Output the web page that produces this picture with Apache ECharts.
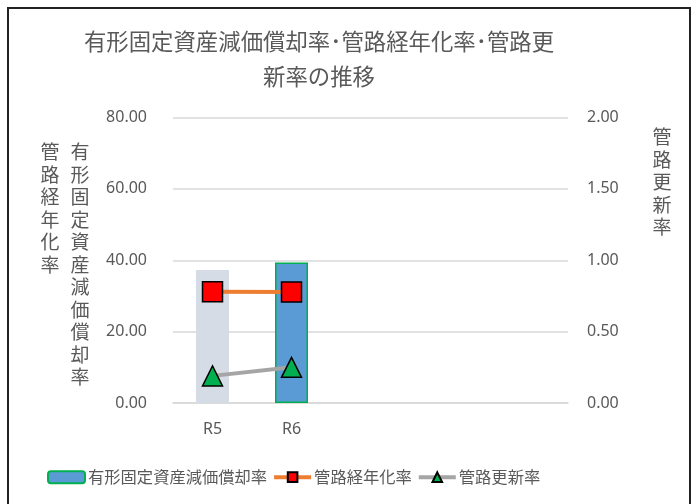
<!DOCTYPE html>
<html><head><meta charset="utf-8">
<script src="https://cdn.jsdelivr.net/npm/echarts@6/dist/echarts.min.js"></script>
<style>
html,body{margin:0;padding:0;background:#fff;}
#frame{position:absolute;left:7px;top:7px;width:684px;height:510px;border:2px solid #222;box-sizing:border-box;}
#c{position:absolute;left:0;top:0;width:696px;height:504px;}
</style></head>
<body>
<div id="frame"></div>
<div id="c"></div>
<script>
const categories = ['R5', 'R6', '', '', ''];
const depreciationRate = [37.3, 39.4];   // 有形固定資産減価償却率
const agingRate = [31.2, 31.1];          // 管路経年化率
const renewalRate = [0.19, 0.25];        // 管路更新率
const leftTicks = { min: 0, max: 80, interval: 20 };
const rightTicks = { min: 0, max: 2, interval: 0.5 };

const FONT = "'Noto Sans', 'Noto Sans CJK JP', sans-serif";
const TXT = '#595959';
const vert = s => s.split('').join('\n');

const chart = echarts.init(document.getElementById('c'));
chart.setOption({
  animation: false,
  textStyle: { fontFamily: FONT, color: TXT },
  graphic: [
    { type: 'text', position: [319, 24], style: { text: '有形固定資産減価償却率･管路経年化率･管路更\n新率の推移', align: 'center', fill: TXT, font: "22.4px 'Noto Sans CJK JP'", lineHeight: 35 } },
    { type: 'text', position: [50, 141], style: { text: vert('管路経年化率'), align: 'center', fill: TXT, font: "19px 'Noto Sans CJK JP'", lineHeight: 22.5 } },
    { type: 'text', position: [80, 141], style: { text: vert('有形固定資産減価償却率'), align: 'center', fill: TXT, font: "19px 'Noto Sans CJK JP'", lineHeight: 22.5 } },
    { type: 'text', position: [662, 126], style: { text: vert('管路更新率'), align: 'center', fill: TXT, font: "19px 'Noto Sans CJK JP'", lineHeight: 22.5 } }
  ],
  grid: { left: 173, right: 128, top: 117.5, bottom: 101 },
  legend: {
    top: 464, left: 42,
    itemWidth: 37, itemHeight: 12, itemGap: 5,
    textStyle: { fontSize: 16.3, color: TXT, fontFamily: "'Noto Sans CJK JP'", padding: [0, 0, 0, -2] },
    data: [
      { name: '有形固定資産減価償却率' },
      { name: '管路経年化率', lineStyle: { width: 4, color: '#ED7D31' } },
      { name: '管路更新率', lineStyle: { width: 4, color: '#A5A5A5' } }
    ]
  },
  xAxis: {
    type: 'category', data: categories,
    axisLine: { lineStyle: { color: '#D9D9D9', width: 1.5 } },
    axisTick: { show: false },
    axisLabel: { fontSize: 16, color: TXT, margin: 18 }
  },
  yAxis: [
    { type: 'value', min: leftTicks.min, max: leftTicks.max, interval: leftTicks.interval,
      axisLabel: { fontSize: 16, color: TXT, margin: 26, formatter: v => v.toFixed(2) },
      splitLine: { lineStyle: { color: '#D9D9D9', width: 1.5 } },
      axisLine: { show: false }, axisTick: { show: false } },
    { type: 'value', min: rightTicks.min, max: rightTicks.max, interval: rightTicks.interval,
      axisLabel: { fontSize: 16, color: TXT, margin: 19, formatter: v => v.toFixed(2) },
      splitLine: { show: false },
      axisLine: { show: false }, axisTick: { show: false } }
  ],
  series: [
    { name: '有形固定資産減価償却率', type: 'bar', yAxisIndex: 0, barWidth: 33,
      itemStyle: { color: '#5B9BD5', borderColor: '#00B050', borderWidth: 1.5 },
      data: depreciationRate.map((v, i) => i === 0 ? { value: v, itemStyle: { color: '#D6DCE5', borderWidth: 0 } } : v) },
    { name: '管路経年化率', type: 'line', yAxisIndex: 0, data: agingRate,
      symbol: 'rect', symbolSize: 20,
      lineStyle: { color: '#ED7D31', width: 4 },
      itemStyle: { color: '#FF0000', borderColor: '#000', borderWidth: 1.5 } },
    { name: '管路更新率', type: 'line', yAxisIndex: 1, data: renewalRate,
      symbol: 'triangle', symbolSize: 20,
      lineStyle: { color: '#A5A5A5', width: 4 },
      itemStyle: { color: '#00B050', borderColor: '#000', borderWidth: 1.5 } }
  ]
});
</script>
</body></html>
